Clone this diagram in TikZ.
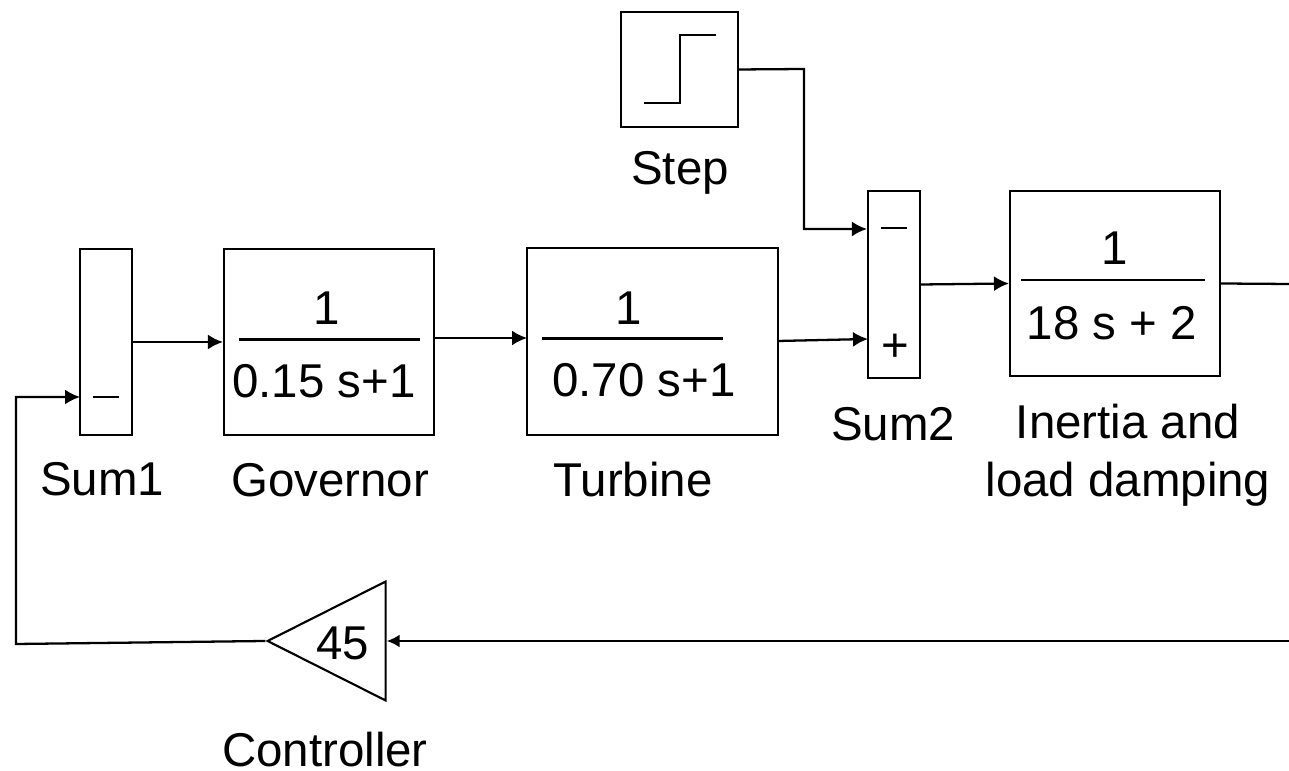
\documentclass[tikz,border=0pt]{standalone}
\usepackage{fontspec}
\setmainfont{Liberation Sans}
\usetikzlibrary{shapes.geometric,arrows.meta,positioning,calc}

\begin{document}
\begin{tikzpicture}[
  font=\fontsize{27}{33}\selectfont,
  blockbox/.style={
    rectangle, draw=black, line width=1.2pt, inner sep=0pt
  },
  gainbox/.style={
    isosceles triangle, isosceles triangle apex angle=53.5,
    shape border rotate=180, draw=black, line width=1.2pt,
    inner sep=0pt, minimum height=2.36cm
  },
  txt/.style={inner sep=0pt, anchor=center},
  sgn/.style={line width=1.2pt},
  arr/.style={-{Latex[length=0.3cm,width=0.3cm]}, line width=1.3pt},
  wire/.style={line width=1.3pt}
]
\useasboundingbox (0,0) rectangle (25.78,15.42);

\node[blockbox, minimum width=2.34cm, minimum height=2.3cm] (stepblk) at (13.59,14.03) {};
\node[blockbox, minimum width=1.04cm, minimum height=3.74cm] (sumtwo) at (17.88,9.73) {};
\node[blockbox, minimum width=4.2cm, minimum height=3.7cm] (inertia) at (22.3,9.75) {};
\node[blockbox, minimum width=1.04cm, minimum height=3.72cm] (sumone) at (2.12,8.58) {};
\node[blockbox, minimum width=4.2cm, minimum height=3.72cm] (gov) at (6.58,8.58) {};
\node[blockbox, minimum width=5.02cm, minimum height=3.74cm] (turb) at (13.05,8.59) {};
\node[gainbox] (ctrl) at (6.98,2.6) {};

% labels
\node[txt] (steplab) at (13.6,11.96) {Step};
\node[txt] (sumtwolab) at (17.86,6.93) {Sum2};
\node[txt] (inertialab) at (22.56,6.31) {\begin{tabular}{@{}c@{}}Inertia and\\load damping\end{tabular}};
\node[txt] (sumonelab) at (2.04,5.84) {Sum1};
\node[txt] (govlab) at (6.6,5.82) {Governor};
\node[txt] (turblab) at (12.66,5.82) {Turbine};
\node[txt] (ctrllab) at (6.5,0.42) {Controller};
\node[txt] (gainlab) at (6.86,2.56) {45};

% fractions
\node[txt] (govnum) at (6.54,9.26) {1};
\node[txt] (govden) at (6.48,7.8) {0.15 s+1};
\draw[sgn] (4.78,8.63) -- (8.4,8.63);
\node[txt] (turbnum) at (12.58,9.26) {1};
\node[txt] (turbden) at (12.88,7.82) {0.70 s+1};
\draw[sgn] (10.84,8.65) -- (14.46,8.65);
\node[txt] (inertnum) at (22.3,10.46) {1};
\node[txt] (inertden) at (22.24,8.96) {18 s + 2};
\draw[sgn] (20.42,9.82) -- (24.1,9.82);

% signs
\draw[sgn] (17.62,10.86) -- (18.14,10.86);
\node[txt] (plus) at (17.9,8.46) {+};
\draw[sgn] (1.86,7.48) -- (2.38,7.48);

% step icon
\draw[line width=1.4pt] (12.88,13.36) -- (13.6,13.36) -- (13.6,14.72) -- (14.32,14.72);

% connectors
\coordinate (stepA) at (16.08,14.04);
\coordinate (stepB) at (16.08,10.84);
\coordinate (sumtwoMinus) at (sumtwo.west |- stepB);
\draw[arr] (stepblk.east) -- (stepA) -- (stepB) -- (sumtwoMinus);
\draw[arr] (sumtwo.east) -- (inertia.west);
\coordinate (sumtwoPlus) at (17.36,8.64);
\coordinate (turbOut) at (15.56,8.6);
\draw[arr] (turbOut) -- (sumtwoPlus);
\coordinate (govOut) at (8.68,8.66);
\coordinate (turbIn) at (10.54,8.66);
\draw[arr] (govOut) -- (turbIn);
\draw[arr] (sumone.east) -- (gov.west);
\coordinate (rightOut) at (25.78,9.74);
\draw[wire] (inertia.east) -- (rightOut);
\coordinate (rightIn) at (25.78,2.6);
\draw[arr, arrows={-{Latex[length=0.26cm,width=0.26cm]}}] (rightIn) -- (ctrl.lower side);
\coordinate (fbA) at (0.32,2.54);
\coordinate (fbB) at (0.32,7.48);
\coordinate (sumoneMinus) at (1.6,7.48);
\draw[arr] (ctrl.apex) -- (fbA) -- (fbB) -- (sumoneMinus);
\end{tikzpicture}
\end{document}
